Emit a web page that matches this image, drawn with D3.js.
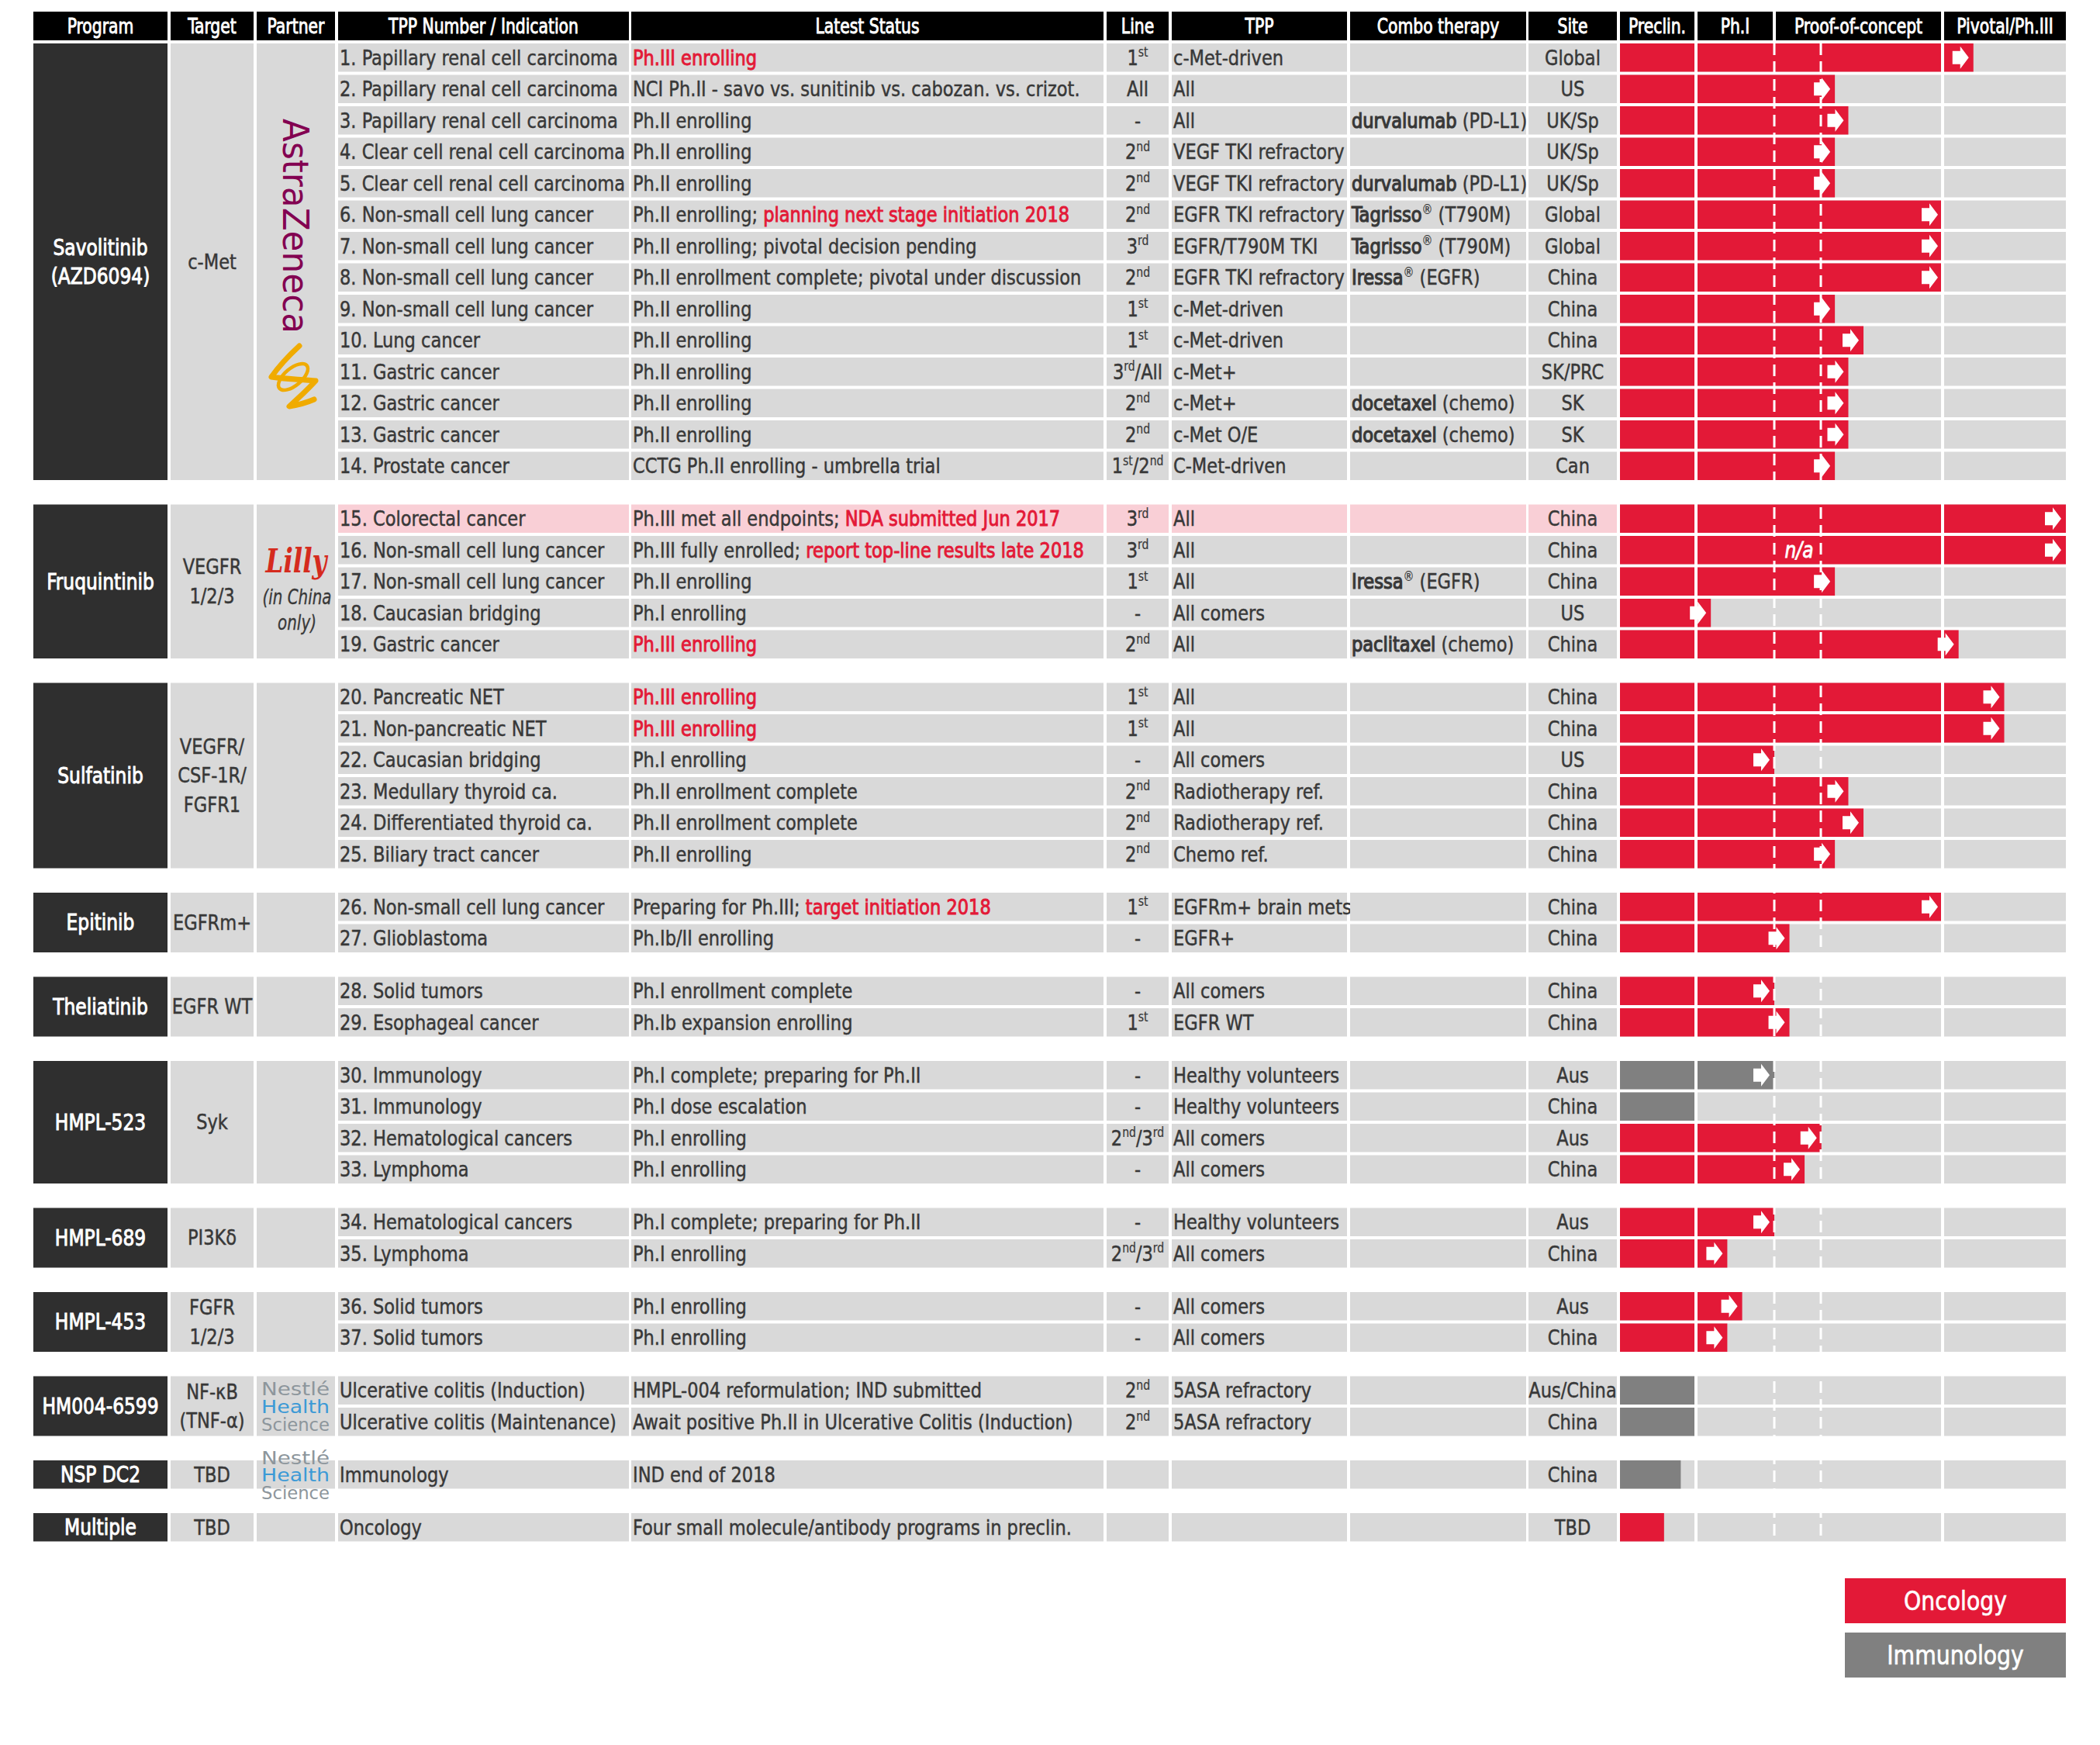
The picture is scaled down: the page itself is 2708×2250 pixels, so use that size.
<!DOCTYPE html>
<html><head><meta charset="utf-8">
<script src="https://cdn.jsdelivr.net/npm/d3@7"></script>
<style>html,body{margin:0;padding:0;background:#fff;}svg{display:block}</style>
</head><body><svg id="c" width="2708" height="2250"></svg>
<script>
// ---------------- DATA ----------------
const headers = ["Program","Target","Partner","TPP Number / Indication","Latest Status","Line","TPP","Combo therapy","Site","Preclin.","Ph.I","Proof-of-concept","Pivotal/Ph.III"];
const programs = ["Savolitinib|(AZD6094)","Fruquintinib","Sulfatinib","Epitinib","Theliatinib","HMPL-523","HMPL-689","HMPL-453","HM004-6599","NSP DC2","Multiple"];
const targets = ["c-Met","VEGFR|1/2/3","VEGFR/|CSF-1R/|FGFR1","EGFRm+","EGFR WT","Syk","PI3Kδ","FGFR|1/2/3","NF-κB|(TNF-α)","TBD","TBD"];
const partners = ["AstraZeneca","Lilly","","","","","","","Nestlé","Nestlé",""];
const groupSizes = [14,5,6,2,2,4,2,2,2,1,1];
const indications = [
 "1. Papillary renal cell carcinoma","2. Papillary renal cell carcinoma","3. Papillary renal cell carcinoma",
 "4. Clear cell renal cell carcinoma","5. Clear cell renal cell carcinoma","6. Non-small cell lung cancer",
 "7. Non-small cell lung cancer","8. Non-small cell lung cancer","9. Non-small cell lung cancer","10. Lung cancer",
 "11. Gastric cancer","12. Gastric cancer","13. Gastric cancer","14. Prostate cancer",
 "15. Colorectal cancer","16. Non-small cell lung cancer","17. Non-small cell lung cancer","18. Caucasian bridging","19. Gastric cancer",
 "20. Pancreatic NET","21. Non-pancreatic NET","22. Caucasian bridging","23. Medullary thyroid ca.","24. Differentiated thyroid ca.","25. Biliary tract cancer",
 "26. Non-small cell lung cancer","27. Glioblastoma",
 "28. Solid tumors","29. Esophageal cancer",
 "30. Immunology","31. Immunology","32. Hematological cancers","33. Lymphoma",
 "34. Hematological cancers","35. Lymphoma",
 "36. Solid tumors","37. Solid tumors",
 "Ulcerative colitis (Induction)","Ulcerative colitis (Maintenance)",
 "Immunology","Oncology"];
const statusText = [
 "[Ph.III enrolling]","NCI Ph.II - savo vs. sunitinib vs. cabozan. vs. crizot.","Ph.II enrolling","Ph.II enrolling","Ph.II enrolling",
 "Ph.II enrolling; [planning next stage initiation 2018]","Ph.II enrolling; pivotal decision pending","Ph.II enrollment complete; pivotal under discussion",
 "Ph.II enrolling","Ph.II enrolling","Ph.II enrolling","Ph.II enrolling","Ph.II enrolling","CCTG Ph.II enrolling - umbrella trial",
 "Ph.III met all endpoints; [NDA submitted Jun 2017]","Ph.III fully enrolled; [report top-line results late 2018]","Ph.II enrolling","Ph.I enrolling","[Ph.III enrolling]",
 "[Ph.III enrolling]","[Ph.III enrolling]","Ph.I enrolling","Ph.II enrollment complete","Ph.II enrollment complete","Ph.II enrolling",
 "Preparing for Ph.III; [target initiation 2018]","Ph.Ib/II enrolling",
 "Ph.I enrollment complete","Ph.Ib expansion enrolling",
 "Ph.I complete; preparing for Ph.II","Ph.I dose escalation","Ph.I enrolling","Ph.I enrolling",
 "Ph.I complete; preparing for Ph.II","Ph.I enrolling",
 "Ph.I enrolling","Ph.I enrolling",
 "HMPL-004 reformulation; IND submitted","Await positive Ph.II in Ulcerative Colitis (Induction)",
 "IND end of 2018","Four small molecule/antibody programs in preclin."];
const lineOfTherapy = [
 "1{st}","All","-","2{nd}","2{nd}","2{nd}","3{rd}","2{nd}","1{st}","1{st}","3{rd}/All","2{nd}","2{nd}","1{st}/2{nd}",
 "3{rd}","3{rd}","1{st}","-","2{nd}",
 "1{st}","1{st}","-","2{nd}","2{nd}","2{nd}",
 "1{st}","-",
 "-","1{st}",
 "-","-","2{nd}/3{rd}","-",
 "-","2{nd}/3{rd}",
 "-","-",
 "2{nd}","2{nd}",
 "",""];
const tppText = [
 "c-Met-driven","All","All","VEGF TKI refractory","VEGF TKI refractory","EGFR TKI refractory","EGFR/T790M TKI","EGFR TKI refractory",
 "c-Met-driven","c-Met-driven","c-Met+","c-Met+","c-Met O/E","C-Met-driven",
 "All","All","All","All comers","All",
 "All","All","All comers","Radiotherapy ref.","Radiotherapy ref.","Chemo ref.",
 "EGFRm+ brain mets","EGFR+",
 "All comers","EGFR WT",
 "Healthy volunteers","Healthy volunteers","All comers","All comers",
 "Healthy volunteers","All comers",
 "All comers","All comers",
 "5ASA refractory","5ASA refractory",
 "",""];
const comboTherapy = [
 "","","*durvalumab* (PD-L1)","","*durvalumab* (PD-L1)","*Tagrisso*{®} (T790M)","*Tagrisso*{®} (T790M)","*Iressa*{®} (EGFR)",
 "","","","*docetaxel* (chemo)","*docetaxel* (chemo)","",
 "","","*Iressa*{®} (EGFR)","","*paclitaxel* (chemo)",
 "","","","","","",
 "","","","","","","","","","","","","","","",""];
const sites = [
 "Global","US","UK/Sp","UK/Sp","UK/Sp","Global","Global","China","China","China","SK/PRC","SK","SK","Can",
 "China","China","China","US","China",
 "China","China","US","China","China","China",
 "China","China",
 "China","China",
 "Aus","China","Aus","China",
 "Aus","China",
 "Aus","China",
 "Aus/China","China",
 "China","TBD"];
// progress in stage units: 0-1 Preclin, 1-2 Ph.I, 2-3 Proof-of-concept, 3-4 Pivotal/Ph.III
const progress = [
 3.25,2.36,2.44,2.36,2.36,3.0,3.0,3.0,2.36,2.53,2.44,2.44,2.44,2.36,
 4.0,4.0,2.36,1.19,3.13,
 3.5,3.5,2.0,2.44,2.53,2.36,
 3.0,2.09,
 2.0,2.09,
 2.0,1.0,2.28,2.18,
 2.0,1.4,
 1.59,1.4,
 1.0,1.0,
 0.8,0.58];
const therapyArea = [
 "O","O","O","O","O","O","O","O","O","O","O","O","O","O",
 "O","O","O","O","O",
 "O","O","O","O","O","O",
 "O","O",
 "O","O",
 "I","I","O","O",
 "O","O",
 "O","O",
 "I","I",
 "I","O"];
const showArrow = [
 1,1,1,1,1,1,1,1,1,1,1,1,1,1,
 1,1,1,1,1,
 1,1,1,1,1,1,
 1,1,
 1,1,
 1,0,1,1,
 1,1,
 1,1,
 0,0,
 0,0];
const highlightRows = [14];
const barNotes = {15: "n/a"};
const legendLabels = ["Oncology","Immunology"];

// ---------------- STYLE / LAYOUT ----------------
const FONT = "'Liberation Sans Narrow','Arial Narrow','DejaVu Sans Condensed','Liberation Sans',sans-serif";
const RED = "#e31937", GRAYBAR = "#808080", CELL = "#d9d9d9", DARK = "#2f2f2f", TXT = "#383838", PINK = "#f9cfd6";
const cols = [[43,216],[220,327],[331,432],[436,811],[814,1423],[1427,1507],[1511,1737],[1741,1968],[1971,2085],[2089,2185],[2189,2286],[2290,2503],[2507,2664]];
const rowH = 36.5;
const svg = d3.select("#c");

function measure(str, size, weight, style) {
  const t = svg.append("text").attr("font-family", FONT).attr("font-size", size)
    .attr("font-weight", weight || "normal").attr("font-style", style || "normal").text(str);
  const w = t.node().getComputedTextLength(); t.remove(); return w;
}
const kBody = 359 / measure("1. Papillary renal cell carcinoma", 27);
const kHead = 245 / measure("TPP Number / Indication", 27);
const kProg = 122 / measure("Savolitinib", 28);
const kLeg = 133 / measure("Oncology", 33);
const kIt = 89 / measure("(in China", 26, "normal", "italic");

function rich(t, str, o) {
  const parts = str.split(/(\{[^}]*\}|\[[^\]]*\]|\*[^*]*\*)/).filter(s => s !== "");
  let cur = 0;
  const sh = -o.size * 0.38;
  parts.forEach(p => {
    const s = t.append("tspan");
    if (p[0] === "{") {
      s.text(p.slice(1, -1)).attr("font-size", o.size * 0.62).attr("dy", sh - cur).attr("stroke-width", 0.2); cur = sh;
    } else {
      if (cur !== 0) { s.attr("dy", -cur); cur = 0; }
      if (p[0] === "[") { s.text(p.slice(1, -1)).attr("fill", RED).attr("stroke", RED).attr("stroke-width", 0.9); }
      else if (p[0] === "*") { s.text(p.slice(1, -1)).attr("stroke-width", 1.2); }
      else s.text(p);
    }
  });
}
function txt(parent, x, y, str, o) {
  const t = parent.append("text")
    .attr("transform", `translate(${x},${y}) scale(${o.k},1)`)
    .attr("font-family", o.family || FONT).attr("font-size", o.size).attr("fill", o.fill)
    .attr("stroke", o.fill).attr("stroke-width", o.sw == null ? 0.45 : o.sw)
    .attr("text-anchor", o.anchor || "start").attr("font-weight", o.weight || "normal")
    .attr("font-style", o.style || "normal");
  rich(t, str, o);
  return t;
}

// row slots: row index + group gap units
const groupOf = [], groupStart = [];
let idx = 0;
groupSizes.forEach((n, g) => { groupStart.push(idx); for (let j = 0; j < n; j++) { groupOf.push(g); idx++; } });
const nRows = idx;
const yRow = d3.scaleLinear().domain([0, 1]).range([56, 96.5]);
const rowTop = i => yRow(i + groupOf[i] * 0.679);

const xP = d3.scaleLinear().domain([0, 1, 2, 3, 4]).range([2089, 2187, 2288, 2505, 2664]);
const segs = [[cols[9][0], cols[9][1]], [cols[10][0], cols[11][1]], [cols[12][0], cols[12][1]]];

// ---------------- HEADER ----------------
const gH = svg.append("g");
headers.forEach((h, c) => {
  gH.append("rect").attr("x", cols[c][0]).attr("y", 15).attr("width", cols[c][1] - cols[c][0]).attr("height", 37).attr("fill", "#000");
  txt(gH, (cols[c][0] + cols[c][1]) / 2, 43, h, { k: kHead, size: 27, fill: "#fff", anchor: "middle", sw: 0.9 });
});

// ---------------- GROUP CELLS ----------------
const gG = svg.append("g");
groupSizes.forEach((n, g) => {
  const i0 = groupStart[g], i1 = i0 + n - 1;
  const y0 = rowTop(i0), y1 = rowTop(i1) + rowH, cy = (y0 + y1) / 2;
  [[0, DARK], [1, CELL], [2, CELL]].forEach(([c, f]) => {
    gG.append("rect").attr("x", cols[c][0]).attr("y", y0).attr("width", cols[c][1] - cols[c][0]).attr("height", y1 - y0).attr("fill", f);
  });
  const pl = programs[g].split("|");
  pl.forEach((s, j) => txt(gG, (cols[0][0] + cols[0][1]) / 2, cy + (j - (pl.length - 1) / 2) * 37 + 10, s,
    { k: kProg, size: 28, fill: "#fff", anchor: "middle", sw: 0.9 }));
  const tl = targets[g].split("|");
  tl.forEach((s, j) => txt(gG, (cols[1][0] + cols[1][1]) / 2, cy + (j - (tl.length - 1) / 2) * 37.5 + 9.5, s,
    { k: kBody, size: 27, fill: TXT, anchor: "middle" }));
});

// ---------------- ROW CELLS ----------------
const gR = svg.append("g");
const textCols = [indications, statusText, lineOfTherapy, tppText, comboTherapy, sites];
for (let i = 0; i < nRows; i++) {
  const y = rowTop(i), base = y + rowH / 2 + 9.5;
  const hl = highlightRows.includes(i);
  textCols.forEach((arr, j) => {
    const c = j + 3;
    gR.append("rect").attr("x", cols[c][0]).attr("y", y).attr("width", cols[c][1] - cols[c][0]).attr("height", rowH).attr("fill", hl ? PINK : CELL);
    const s = arr[i];
    if (!s) return;
    let x = cols[c][0] + 2, anchor = "start";
    if (c === 5 || c === 8) { x = (cols[c][0] + cols[c][1]) / 2; anchor = "middle"; }
    txt(gR, x, base, s, { k: kBody, size: 27, fill: TXT, anchor });
  });
  segs.forEach(sg => gR.append("rect").attr("x", sg[0]).attr("y", y).attr("width", sg[1] - sg[0]).attr("height", rowH).attr("fill", CELL));
}

// ---------------- BARS ----------------
const gB = svg.append("g");
for (let i = 0; i < nRows; i++) {
  const y = rowTop(i);
  const xe = xP(progress[i]);
  const col = therapyArea[i] === "O" ? RED : GRAYBAR;
  segs.forEach(sg => {
    if (xe > sg[0]) gB.append("rect").attr("x", sg[0]).attr("y", y).attr("width", Math.min(xe, sg[1]) - sg[0]).attr("height", rowH).attr("fill", col);
  });
}
// dashed stage dividers
[2288, 2348].forEach(x => {
  gB.append("line").attr("x1", x).attr("x2", x).attr("y1", rowTop(0)).attr("y2", rowTop(nRows - 1) + rowH)
    .attr("stroke", "#fff").attr("stroke-width", 3).attr("stroke-dasharray", "15 8");
});
for (let i = 0; i < nRows; i++) {
  const cy = rowTop(i) + rowH / 2;
  const xe = xP(progress[i]);
  if (showArrow[i]) {
    const t = xe - 6;
    gB.append("path").attr("fill", "#fff")
      .attr("d", `M${t - 21},${cy - 8.5}L${t - 11},${cy - 8.5}L${t - 11},${cy - 14.5}L${t},${cy}L${t - 11},${cy + 14.5}L${t - 11},${cy + 8.5}L${t - 21},${cy + 8.5}Z`);
  }
  if (barNotes[i]) {
    txt(gB, 2320, cy + 10, barNotes[i], { k: kIt * 1.05, size: 29, fill: "#fff", anchor: "middle", style: "italic", sw: 0.8 });
  }
}

// ---------------- PARTNER LOGOS ----------------
const gL = svg.append("g");
partners.forEach((p, g) => {
  if (!p) return;
  const i0 = groupStart[g], i1 = i0 + groupSizes[g] - 1;
  const y0 = rowTop(i0), y1 = rowTop(i1) + rowH, cy = (y0 + y1) / 2;
  if (p === "AstraZeneca") {
    gL.append("text").attr("transform", "translate(365,291.5) rotate(90)")
      .attr("font-family", "'DejaVu Sans',sans-serif").attr("font-size", 47).attr("fill", "#830051")
      .attr("text-anchor", "middle").attr("textLength", 277).attr("lengthAdjust", "spacingAndGlyphs").text(p);
    const sym = gL.append("g").attr("fill", "none").attr("stroke", "#f0ab00").attr("stroke-width", 7).attr("stroke-linejoin", "round").attr("stroke-linecap", "round");
    sym.append("path").attr("d", "M386,446 C373,458 359,473 350,486 C366,489 392,489 407,491 C397,502 384,514 373,524 C385,522 396,519 405,515");
    sym.append("ellipse").attr("cx", 378).attr("cy", 486).attr("rx", 23).attr("ry", 11).attr("transform", "rotate(-40,378,486)").attr("stroke-width", 4.5);
  } else if (p === "Lilly") {
    gL.append("text").attr("x", 382).attr("y", 738).attr("font-family", "'DejaVu Serif',serif").attr("font-style", "italic").attr("font-weight", "bold")
      .attr("font-size", 42).attr("fill", "#d52b1e").attr("text-anchor", "middle").attr("textLength", 79).attr("lengthAdjust", "spacingAndGlyphs").text(p);
    txt(gL, 383, 779, "(in China", { k: kIt, size: 26, fill: TXT, anchor: "middle", style: "italic", sw: 0.3 });
    txt(gL, 383, 812, "only)", { k: kIt, size: 26, fill: TXT, anchor: "middle", style: "italic", sw: 0.3 });
  } else {
    [["Nestlé", "#8d969c", -13.5], ["Health", "#3c9ad6", 9], ["Science", "#8d969c", 32]].forEach(([s, f, dy]) => {
      gL.append("text").attr("x", 381).attr("y", cy + dy).attr("font-family", "'DejaVu Sans',sans-serif").attr("font-size", 23)
        .attr("fill", f).attr("text-anchor", "middle").attr("textLength", 88).attr("lengthAdjust", "spacingAndGlyphs").text(s);
    });
  }
});

// ---------------- LEGEND ----------------
const gLeg = svg.append("g");
legendLabels.forEach((s, j) => {
  const y = 2035 + j * 70;
  gLeg.append("rect").attr("x", 2379).attr("y", y).attr("width", 285).attr("height", 58).attr("fill", j === 0 ? RED : GRAYBAR);
  txt(gLeg, 2521.5, y + 29 + 12, s, { k: kLeg, size: 33, fill: "#fff", anchor: "middle", sw: 0.6 });
});
</script></body></html>
